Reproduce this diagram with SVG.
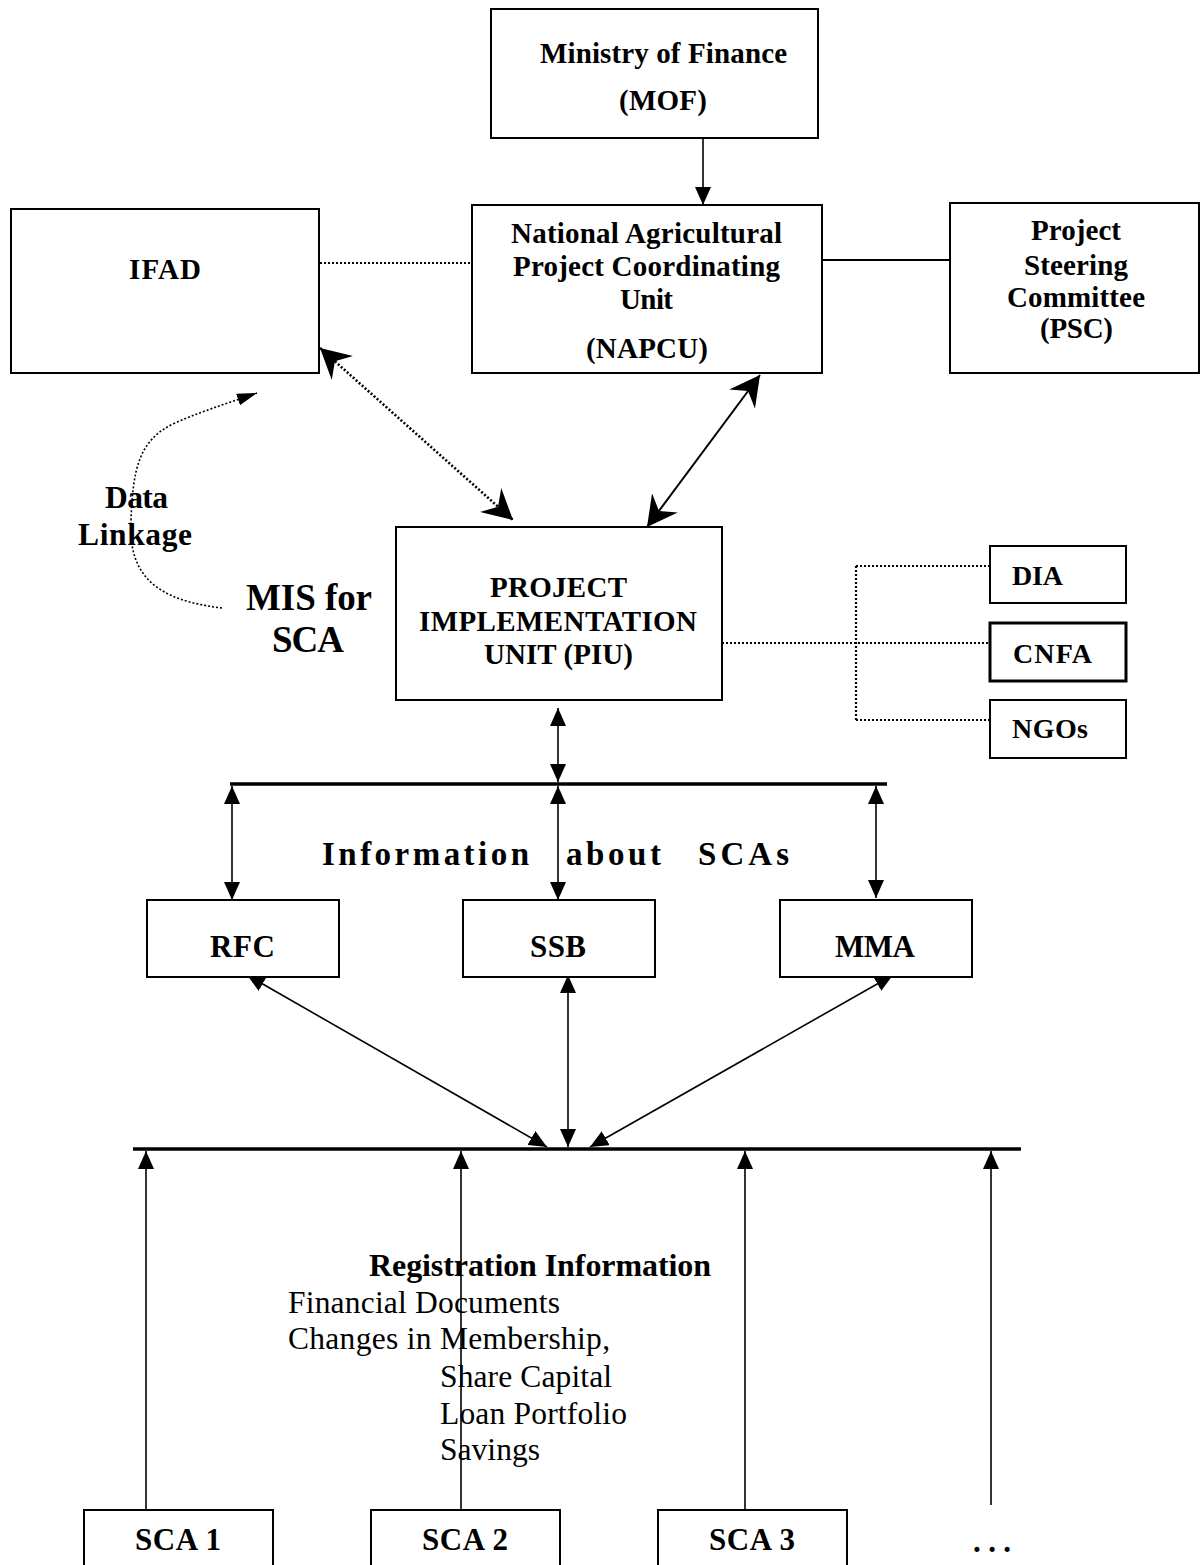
<svg xmlns="http://www.w3.org/2000/svg" width="1201" height="1565" viewBox="0 0 1201 1565">
<defs>
<style>
.box{fill:#fff;stroke:#000;stroke-width:2}
.b{font-family:"Liberation Serif","Times New Roman",serif;font-weight:bold;font-size:29px;fill:#000}
.r{font-family:"Liberation Serif","Times New Roman",serif;font-size:31.5px;fill:#000}
.ln{stroke:#000;stroke-width:1.6;fill:none}
.bus{stroke:#000;stroke-width:3.5;fill:none}
.dot{stroke:#000;stroke-width:2.2;stroke-dasharray:2 2;fill:none}
</style>
<marker id="tri" markerUnits="userSpaceOnUse" markerWidth="18" markerHeight="16" refX="18" refY="8" orient="auto-start-reverse">
<path d="M0,0 L18,8 L0,16 z" fill="#000"/>
</marker>
<marker id="st" markerUnits="userSpaceOnUse" markerWidth="30" markerHeight="32" refX="30" refY="16" orient="auto-start-reverse">
<path d="M0,0 L30,16 L0,32 L10,16 z" fill="#000"/>
</marker>
<marker id="sm" markerUnits="userSpaceOnUse" markerWidth="20" markerHeight="12" refX="20" refY="6" orient="auto">
<path d="M0,0 L20,6 L0,12 z" fill="#000"/>
</marker>
</defs>
<rect width="1201" height="1565" fill="#fff"/>

<g id="connectors">
<line class="ln" x1="703" y1="138" x2="703" y2="205" marker-end="url(#tri)"/>
<line class="dot" x1="320" y1="263" x2="472" y2="263"/>
<line class="ln" style="stroke-width:2" x1="822" y1="260" x2="950" y2="260"/>
<line class="dot" style="stroke-width:2.6" x1="320" y1="348" x2="513" y2="520" marker-start="url(#st)" marker-end="url(#st)"/>
<line class="ln" style="stroke-width:2" x1="760" y1="375" x2="647" y2="527" marker-start="url(#st)" marker-end="url(#st)"/>
<path class="dot" style="stroke-width:1.6" d="M222,608 C155,600 128,575 131,520 C133,470 138,440 175,423 C200,412 225,404 257,393" marker-end="url(#sm)"/>
<path class="dot" d="M722,643 L990,643 M856,566 L856,720 M856,566 L990,566 M856,720 L990,720"/>
<line class="ln" x1="558" y1="708" x2="558" y2="782" marker-start="url(#tri)" marker-end="url(#tri)"/>
<line class="bus" x1="230" y1="784" x2="887" y2="784"/>
<line class="ln" x1="232" y1="786" x2="232" y2="900" marker-start="url(#tri)" marker-end="url(#tri)"/>
<line class="ln" x1="558" y1="786" x2="558" y2="900" marker-start="url(#tri)" marker-end="url(#tri)"/>
<line class="ln" x1="876" y1="786" x2="876" y2="898" marker-start="url(#tri)" marker-end="url(#tri)"/>
<line class="ln" x1="247" y1="975" x2="547" y2="1147" marker-start="url(#tri)" marker-end="url(#tri)"/>
<line class="ln" x1="568" y1="975" x2="568" y2="1147" marker-start="url(#tri)" marker-end="url(#tri)"/>
<line class="ln" x1="893" y1="975" x2="590" y2="1147" marker-start="url(#tri)" marker-end="url(#tri)"/>
<line class="bus" x1="133" y1="1149" x2="1021" y2="1149"/>
<line class="ln" x1="146" y1="1510" x2="146" y2="1151" marker-end="url(#tri)"/>
<line class="ln" x1="461" y1="1510" x2="461" y2="1151" marker-end="url(#tri)"/>
<line class="ln" x1="745" y1="1510" x2="745" y2="1151" marker-end="url(#tri)"/>
<line class="ln" x1="991" y1="1505" x2="991" y2="1151" marker-end="url(#tri)"/>
</g>

<g id="mof">
<rect class="box" x="491" y="9" width="327" height="129"/>
<text class="b" x="540" y="63" textLength="247">Ministry of Finance</text>
<text class="b" x="619" y="110" textLength="88">(MOF)</text>
</g>
<g id="ifad">
<rect class="box" x="11" y="209" width="308" height="164"/>
<text class="b" x="129" y="279" textLength="72">IFAD</text>
</g>
<g id="napcu">
<rect class="box" x="472" y="205" width="350" height="168"/>
<text class="b" x="511" y="243" textLength="271">National Agricultural</text>
<text class="b" x="513" y="276" textLength="267">Project Coordinating</text>
<text class="b" x="620" y="309" textLength="53">Unit</text>
<text class="b" x="586" y="358" textLength="122">(NAPCU)</text>
</g>
<g id="psc">
<rect class="box" x="950" y="203" width="249" height="170"/>
<text class="b" x="1031" y="240" textLength="90">Project</text>
<text class="b" x="1024" y="275" textLength="104">Steering</text>
<text class="b" x="1007" y="307" textLength="138">Committee</text>
<text class="b" x="1040" y="338" textLength="73">(PSC)</text>
</g>
<g id="data-linkage">
<text class="b" style="font-size:31.5px" x="105" y="508" textLength="63">Data</text>
<text class="b" style="font-size:31.5px" x="78" y="545" textLength="114">Linkage</text>
</g>
<g id="mis">
<text class="b" style="font-size:37px" x="246" y="610" textLength="126">MIS for</text>
<text class="b" style="font-size:37px" x="272" y="652" textLength="72">SCA</text>
</g>
<g id="piu">
<rect class="box" x="396" y="527" width="326" height="173"/>
<text class="b" x="490" y="597" textLength="137">PROJECT</text>
<text class="b" x="419" y="631" textLength="278">IMPLEMENTATION</text>
<text class="b" x="484" y="664" textLength="149">UNIT (PIU)</text>
</g>
<g id="dia">
<rect class="box" x="990" y="546" width="136" height="57"/>
<text class="b" style="font-size:28px" x="1012" y="585" textLength="51">DIA</text>
</g>
<g id="cnfa">
<rect class="box" style="stroke-width:3" x="990" y="623" width="136" height="58"/>
<text class="b" style="font-size:28px" x="1013" y="663" textLength="79">CNFA</text>
</g>
<g id="ngos">
<rect class="box" x="990" y="700" width="136" height="58"/>
<text class="b" style="font-size:28px" x="1012" y="738" textLength="76">NGOs</text>
</g>
<g id="info-label">
<text class="b" style="font-size:33px" x="322" y="865" textLength="207">Information</text>
<text class="b" style="font-size:33px" x="566" y="865" textLength="95">about</text>
<text class="b" style="font-size:33px" x="698" y="865" textLength="91">SCAs</text>
</g>
<g id="rfc">
<rect class="box" x="147" y="900" width="192" height="77"/>
<text class="b" style="font-size:31px" x="210" y="957" textLength="65">RFC</text>
</g>
<g id="ssb">
<rect class="box" x="463" y="900" width="192" height="77"/>
<text class="b" style="font-size:31px" x="530" y="957" textLength="56">SSB</text>
</g>
<g id="mma">
<rect class="box" x="780" y="900" width="192" height="77"/>
<text class="b" style="font-size:31px" x="835" y="957" textLength="80">MMA</text>
</g>
<g id="registration">
<text class="b" style="font-size:32px" x="369" y="1276" textLength="342">Registration Information</text>
<text class="r" x="288" y="1313" textLength="272">Financial Documents</text>
<text class="r" x="288" y="1349" textLength="322">Changes in Membership,</text>
<text class="r" x="440" y="1387" textLength="172">Share Capital</text>
<text class="r" x="440" y="1424" textLength="187">Loan Portfolio</text>
<text class="r" x="440" y="1460" textLength="100">Savings</text>
</g>
<g id="sca1">
<rect class="box" x="84" y="1510" width="189" height="70"/>
<text class="b" style="font-size:31px" x="135" y="1550" textLength="86">SCA 1</text>
</g>
<g id="sca2">
<rect class="box" x="371" y="1510" width="189" height="70"/>
<text class="b" style="font-size:31px" x="422" y="1550" textLength="86">SCA 2</text>
</g>
<g id="sca3">
<rect class="box" x="658" y="1510" width="189" height="70"/>
<text class="b" style="font-size:31px" x="709" y="1550" textLength="86">SCA 3</text>
</g>
<g id="more">
<text class="b" style="font-size:31px" x="973" y="1552" textLength="38">...</text>
</g>
</svg>
